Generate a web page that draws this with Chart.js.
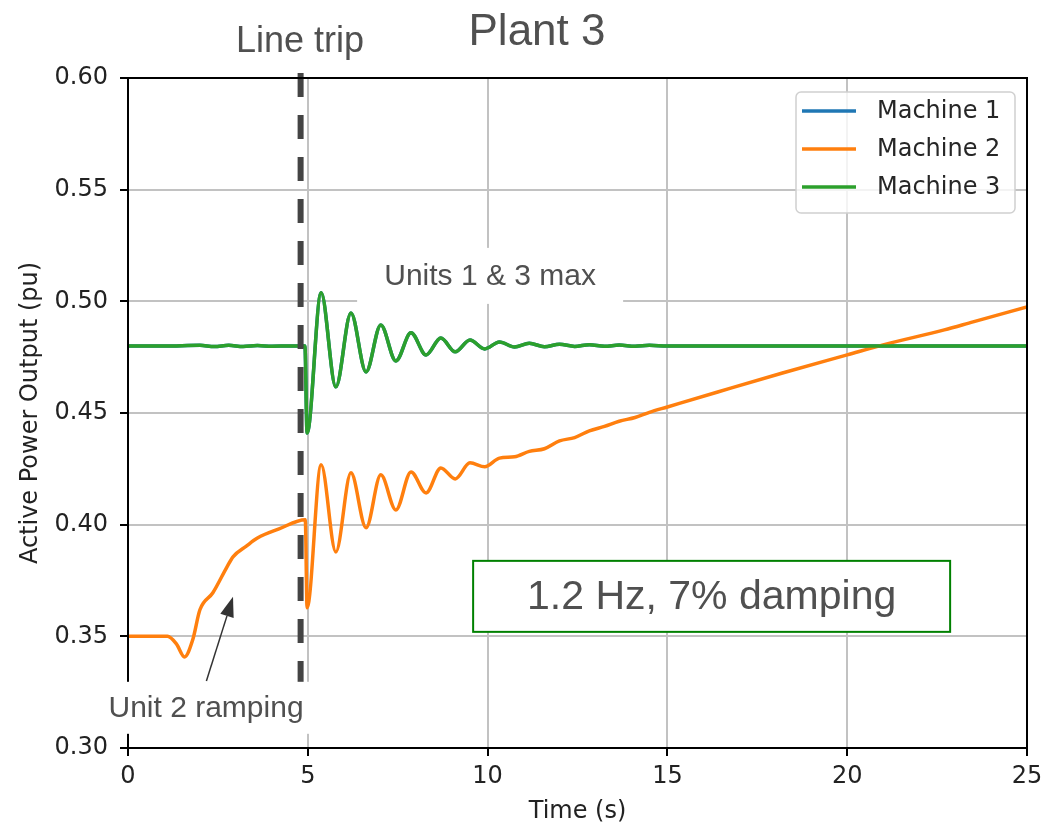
<!DOCTYPE html>
<html>
<head>
<meta charset="utf-8">
<script src="https://cdn.jsdelivr.net/npm/chart.js@4.4.1/dist/chart.umd.min.js"></script>
<style>
  html,body{margin:0;padding:0;background:#fff;}
  #chart{display:block;}
</style>
</head>
<body>
<canvas id="chart" width="1045" height="826"></canvas>
<script>
/* ---- data ---- */
const xTicks = [0, 5, 10, 15, 20, 25];
const yTicks = [0.30, 0.35, 0.40, 0.45, 0.50, 0.55, 0.60];

// Machine 3 (Machine 1 sits exactly underneath it)
const m3Time  = [0, 1.0, 2.0, 2.4, 2.8, 3.2, 3.6, 4.0, 4.5, 4.92, 4.98, 5.37, 5.78, 6.2, 6.62, 7.03, 7.45, 7.87, 8.29, 8.70,
                 9.10, 9.51, 9.92, 10.33, 10.75, 11.16, 11.58, 12.0, 12.42, 12.83, 13.25, 13.66, 14.1, 14.5, 15.0, 17, 20, 22, 25];
const m3Power = [0.480, 0.480, 0.4803, 0.4798, 0.4803, 0.4798, 0.4802, 0.4799, 0.480, 0.480, 0.441, 0.5038, 0.4617, 0.4948, 0.4684, 0.4894, 0.4733, 0.4859, 0.4760, 0.4836,
                 0.4774, 0.4827, 0.4787, 0.4818, 0.4795, 0.4812, 0.4797, 0.4808, 0.4798, 0.4806, 0.4799, 0.4804, 0.4799, 0.4803, 0.4800, 0.480, 0.480, 0.480, 0.480];
const m1Time  = m3Time.slice();
const m1Power = m3Power.slice();

// Machine 2
const m2Time  = [0, 0.5, 1.1, 1.35, 1.57, 1.8, 2.0, 2.36, 2.75, 2.92, 3.3, 3.6, 4.2, 4.93, 4.98, 5.37, 5.78, 6.2, 6.62, 7.03,
                 7.45, 7.87, 8.29, 8.70, 9.10, 9.51, 9.92, 10.33, 10.75, 11.16, 11.58, 12.0, 12.42, 12.83, 13.25, 13.66, 14.1, 14.5,
                 15.0, 16.4, 18.2, 20.0, 21.0, 22.7, 23.5, 25];
const m2Power = [0.350, 0.350, 0.350, 0.3465, 0.3408, 0.3485, 0.3619, 0.3695, 0.381, 0.3856, 0.3905, 0.3940, 0.3981, 0.4022, 0.3628, 0.4268, 0.3878, 0.4232, 0.3986, 0.4223,
                 0.4066, 0.4236, 0.4142, 0.4254, 0.4205, 0.4277, 0.4259, 0.4298, 0.4304, 0.4328, 0.4340, 0.4375, 0.4390, 0.4420, 0.4440, 0.4463, 0.4480, 0.4503,
                 0.4527, 0.4594, 0.4679, 0.4760, 0.4805, 0.4872, 0.4908, 0.4975];

const tripTime = 4.8;
const tripSpan = [0.6022, 0.3065];

const pts = (xs, ys) => xs.map((x, i) => ({x, y: ys[i]}));

const AX_FONT = 'DejaVu Sans';
const NOTE_FONT = '"Liberation Sans", Arial, sans-serif';
const NOTE_COL = '#505050';

/* ---- annotations, legend, spines ---- */
const extras = {
  id: 'extras',
  afterDatasetsDraw(chart) {
    const {ctx, chartArea: a, scales: {x, y}} = chart;
    ctx.save();
    // four spines
    ctx.strokeStyle = '#000';
    ctx.lineWidth = 2;
    ctx.strokeRect(a.left, a.top, a.right - a.left, a.bottom - a.top);

    // white label boxes
    const box = (cx, cy, w, h, text, size, edge) => {
      ctx.fillStyle = '#fff';
      ctx.fillRect(cx - w / 2, cy - h / 2, w, h);
      if (edge) {
        ctx.strokeStyle = edge;
        ctx.lineWidth = 2;
        ctx.strokeRect(cx - w / 2, cy - h / 2, w, h);
      }
      ctx.fillStyle = NOTE_COL;
      ctx.font = size + 'px ' + NOTE_FONT;
      ctx.textAlign = 'center';
      ctx.textBaseline = 'middle';
      ctx.fillText(text, cx, cy + 1);
    };
    box(x.getPixelForValue(10.07), y.getPixelForValue(0.5114), 266, 56, 'Units 1 & 3 max', 30);
    box(x.getPixelForValue(2.17), y.getPixelForValue(0.3180), 246, 52, 'Unit 2 ramping', 30);
    box(x.getPixelForValue(16.23), y.getPixelForValue(0.3679), 477, 71, '1.2 Hz, 7% damping', 41, '#008000');

    // arrow to the ramp
    const x0 = x.getPixelForValue(2.18), y0 = y.getPixelForValue(0.330);
    const x1 = x.getPixelForValue(2.92), y1 = y.getPixelForValue(0.3677);
    const ang = Math.atan2(y1 - y0, x1 - x0), hl = 20, hw = 7;
    const bx = x1 - hl * Math.cos(ang), by = y1 - hl * Math.sin(ang);
    ctx.strokeStyle = '#333';
    ctx.lineWidth = 1.5;
    ctx.beginPath(); ctx.moveTo(x0, y0); ctx.lineTo(bx, by); ctx.stroke();
    ctx.fillStyle = '#333';
    ctx.beginPath();
    ctx.moveTo(x1, y1);
    ctx.lineTo(bx + hw * Math.sin(ang), by - hw * Math.cos(ang));
    ctx.lineTo(bx - hw * Math.sin(ang), by + hw * Math.cos(ang));
    ctx.closePath(); ctx.fill();

    // titles above the axes
    ctx.fillStyle = NOTE_COL;
    ctx.textAlign = 'center';
    ctx.textBaseline = 'alphabetic';
    ctx.font = '44px ' + NOTE_FONT;
    ctx.fillText('Plant 3', 537, 45);
    ctx.font = '36px ' + NOTE_FONT;
    ctx.fillText('Line trip', 300, 52);

    // legend
    const L = {x: 796, y: 92, w: 219, h: 121};
    ctx.beginPath();
    ctx.roundRect(L.x, L.y, L.w, L.h, 5);
    ctx.fillStyle = 'rgba(255,255,255,0.8)';
    ctx.fill();
    ctx.strokeStyle = '#d0d0d0';
    ctx.lineWidth = 1.5;
    ctx.stroke();
    ctx.font = '24px ' + AX_FONT;
    ctx.textAlign = 'left';
    ctx.textBaseline = 'middle';
    chart.data.datasets.filter(d => d.label.startsWith('Machine')).forEach((d, i) => {
      const ly = 111 + i * 38;
      ctx.strokeStyle = d.borderColor;
      ctx.lineWidth = 3.5;
      ctx.beginPath(); ctx.moveTo(802, ly); ctx.lineTo(856, ly); ctx.stroke();
      ctx.fillStyle = '#262626';
      ctx.fillText(d.label, 877, ly + 1);
    });
    ctx.restore();
  }
};

// lower "order" is painted on top
const line = (label, data, color, order) => ({
  label, data, order, borderColor: color, backgroundColor: color,
  borderWidth: 3.5, pointRadius: 0, cubicInterpolationMode: 'monotone'
});

new Chart(document.getElementById('chart'), {
  type: 'line',
  data: {
    datasets: [
      line('Machine 1', pts(m1Time, m1Power), '#1f77b4', 3),
      line('Machine 2', pts(m2Time, m2Power), '#ff7f0e', 2),
      line('Machine 3', pts(m3Time, m3Power), '#2ca02c', 1),
      { label: 'trip', data: pts([tripTime, tripTime], tripSpan), borderColor: '#444', borderWidth: 6,
        borderDash: [24, 18], pointRadius: 0, clip: false, order: 0 }
    ]
  },
  options: {
    responsive: false,
    animation: false,
    devicePixelRatio: 1,
    layout: { padding: { top: 78, right: 18, left: 0, bottom: 0 } },
    plugins: { legend: { display: false }, tooltip: { enabled: false } },
    scales: {
      x: {
        type: 'linear', min: 0, max: 25,
        afterFit: s => { s.height = 78; s.paddingLeft = 0; s.paddingRight = 0; },
        afterBuildTicks: s => { s.ticks = xTicks.map(v => ({value: v})); },
        ticks: { font: { family: AX_FONT, size: 24 }, color: '#222', padding: 6, maxRotation: 0 },
        grid: { color: '#c2c2c2', lineWidth: 2, tickLength: 8, tickColor: '#000', tickWidth: 2 },
        border: { color: '#000', width: 2 },
        title: { display: true, text: 'Time (s)', font: { family: AX_FONT, size: 24 }, color: '#222', padding: { top: 0, bottom: 0 } }
      },
      y: {
        min: 0.30, max: 0.60,
        afterFit: s => { s.width = 128; s.paddingTop = 0; s.paddingBottom = 0; },
        afterBuildTicks: s => { s.ticks = yTicks.map(v => ({value: v})); },
        ticks: { font: { family: AX_FONT, size: 24 }, color: '#222', padding: 12, callback: v => v.toFixed(2) },
        grid: { color: '#c2c2c2', lineWidth: 2, tickLength: 8, tickColor: '#000', tickWidth: 2 },
        border: { color: '#000', width: 2 },
        title: { display: true, text: 'Active Power Output (pu)', font: { family: AX_FONT, size: 24 }, color: '#222', padding: { top: 16, bottom: 0 } }
      }
    }
  },
  plugins: [extras]
});
</script>
</body>
</html>
